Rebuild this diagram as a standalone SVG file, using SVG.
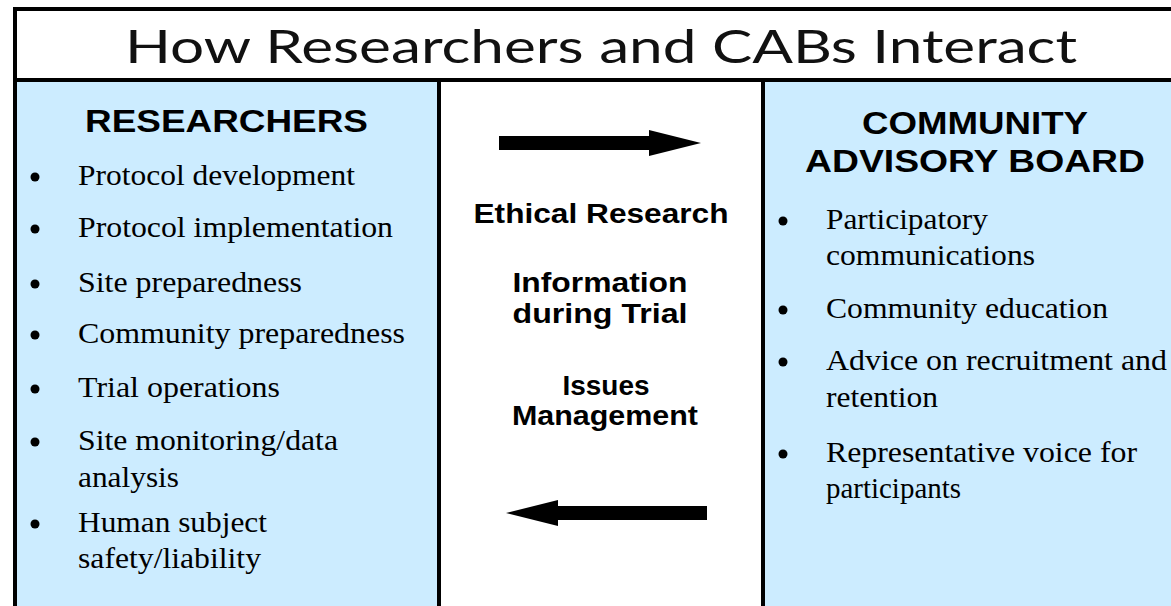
<svg xmlns="http://www.w3.org/2000/svg" width="1171" height="606" viewBox="0 0 1171 606">
<style>
.panel{fill:#CCECFF}
.rule{stroke:#000;stroke-width:4;fill:none}
.title{font-family:Lato,"Open Sans","Liberation Sans",sans-serif;font-weight:400;font-size:46px;fill:#111}
.head{font-family:"Liberation Sans",Arial,sans-serif;font-weight:bold;font-size:31px;fill:#000;text-anchor:middle}
.mid{font-family:"Liberation Sans",Arial,sans-serif;font-weight:bold;font-size:27px;fill:#000;text-anchor:middle}
.body{font-family:"Liberation Serif","Times New Roman",serif;font-size:29px;fill:#000}
.bul{fill:#000}
.arrow{fill:#000}
</style>
<rect x="0" y="0" width="1171" height="606" fill="#fff"/>
<g id="title">
<text class="title" x="601" y="63" text-anchor="middle" textLength="952" lengthAdjust="spacingAndGlyphs">How Researchers and CABs Interact</text>
</g>
<g id="researchers">
<rect class="panel" x="17" y="82" width="420" height="524"/>
<text class="head" x="226.5" y="132" textLength="283" lengthAdjust="spacingAndGlyphs">RESEARCHERS</text>
<circle class="bul" cx="35" cy="177" r="4.5"/>
<text class="body" x="78" y="185" textLength="277" lengthAdjust="spacingAndGlyphs">Protocol development</text>
<circle class="bul" cx="35" cy="229" r="4.5"/>
<text class="body" x="78" y="237" textLength="315" lengthAdjust="spacingAndGlyphs">Protocol implementation</text>
<circle class="bul" cx="35" cy="284" r="4.5"/>
<text class="body" x="78" y="292" textLength="224" lengthAdjust="spacingAndGlyphs">Site preparedness</text>
<circle class="bul" cx="35" cy="335" r="4.5"/>
<text class="body" x="78" y="343" textLength="327" lengthAdjust="spacingAndGlyphs">Community preparedness</text>
<circle class="bul" cx="35" cy="389" r="4.5"/>
<text class="body" x="78" y="397" textLength="202" lengthAdjust="spacingAndGlyphs">Trial operations</text>
<circle class="bul" cx="35" cy="442" r="4.5"/>
<text class="body" x="78" y="450" textLength="260" lengthAdjust="spacingAndGlyphs">Site monitoring/data</text>
<text class="body" x="78" y="487" textLength="101" lengthAdjust="spacingAndGlyphs">analysis</text>
<circle class="bul" cx="35" cy="524" r="4.5"/>
<text class="body" x="78" y="532" textLength="189" lengthAdjust="spacingAndGlyphs">Human subject</text>
<text class="body" x="78" y="568" textLength="183" lengthAdjust="spacingAndGlyphs">safety/liability</text>
</g>
<g id="interaction">
<text class="mid" x="601" y="223" textLength="255" lengthAdjust="spacingAndGlyphs">Ethical Research</text>
<text class="mid" x="600" y="292" textLength="175" lengthAdjust="spacingAndGlyphs">Information</text>
<text class="mid" x="600" y="323" textLength="175" lengthAdjust="spacingAndGlyphs">during Trial</text>
<text class="mid" x="606" y="395" textLength="87" lengthAdjust="spacingAndGlyphs">Issues</text>
<text class="mid" x="605" y="425" textLength="186" lengthAdjust="spacingAndGlyphs">Management</text>
</g>
<g id="cab">
<rect class="panel" x="765" y="82" width="406" height="524"/>
<text class="head" x="975" y="134" textLength="226" lengthAdjust="spacingAndGlyphs">COMMUNITY</text>
<text class="head" x="975" y="172" textLength="340" lengthAdjust="spacingAndGlyphs">ADVISORY BOARD</text>
<circle class="bul" cx="783" cy="221" r="4.5"/>
<text class="body" x="826" y="229" textLength="162" lengthAdjust="spacingAndGlyphs">Participatory</text>
<text class="body" x="826" y="265" textLength="209" lengthAdjust="spacingAndGlyphs">communications</text>
<circle class="bul" cx="783" cy="310" r="4.5"/>
<text class="body" x="826" y="318" textLength="282" lengthAdjust="spacingAndGlyphs">Community education</text>
<circle class="bul" cx="783" cy="362" r="4.5"/>
<text class="body" x="826" y="370" textLength="341" lengthAdjust="spacingAndGlyphs">Advice on recruitment and</text>
<text class="body" x="826" y="407" textLength="112" lengthAdjust="spacingAndGlyphs">retention</text>
<circle class="bul" cx="783" cy="454" r="4.5"/>
<text class="body" x="826" y="462" textLength="311" lengthAdjust="spacingAndGlyphs">Representative voice for</text>
<text class="body" x="826" y="498" textLength="135" lengthAdjust="spacingAndGlyphs">participants</text>
</g>
<g id="frame">
<line class="rule" x1="15" y1="7" x2="15" y2="606"/>
<line class="rule" x1="13" y1="9" x2="1171" y2="9"/>
<line class="rule" x1="13" y1="80" x2="1171" y2="80"/>
<line class="rule" x1="439" y1="80" x2="439" y2="606"/>
<line class="rule" x1="763" y1="80" x2="763" y2="606"/>
</g>
<g id="connectors">
<polygon class="arrow" points="499,136 649,136 649,130 701,143 649,156 649,150 499,150"/>
<polygon class="arrow" points="707,506 558,506 558,500 506,513 558,526 558,520 707,520"/>
</g>
</svg>
